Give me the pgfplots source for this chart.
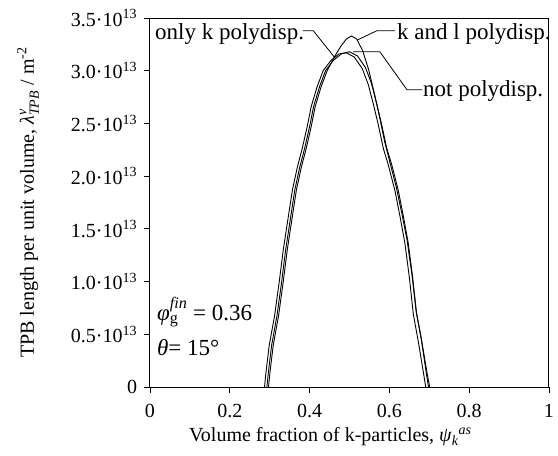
\documentclass[border=0pt]{standalone}
\usepackage{amsmath}
\usepackage{fontspec}
\setmainfont{Liberation Serif}
\usepackage{pgfplots}
\pgfplotsset{compat=1.18}

\begin{document}
\fontsize{20}{24}\selectfont
\begin{tikzpicture}
\begin{axis}[
  at={(0,0)}, anchor=south west,
  scale only axis,
  width=399pt, height=369pt,
  xmin=0, xmax=1, ymin=0, ymax=3.5,
  xtick={0,0.2,0.4,0.6,0.8,1},
  xticklabels={0,0.2,0.4,0.6,0.8,1},
  ytick={0,0.5,1,1.5,2,2.5,3,3.5},
  yticklabels={0,0.5·10\textsuperscript{13},1.0·10\textsuperscript{13},1.5·10\textsuperscript{13},2.0·10\textsuperscript{13},2.5·10\textsuperscript{13},3.0·10\textsuperscript{13},3.5·10\textsuperscript{13}},
  tick align=outside,
  xtick pos=bottom, ytick pos=left,
  major tick length=6pt,
  tick style={black, line width=0.8pt},
  axis line style={line width=1pt},
  ticklabel style={font=\fontsize{20}{24}\selectfont},
  xticklabel style={yshift=-4pt},
  label style={font=\fontsize{20}{24}\selectfont},
  xlabel={Volume fraction of k-particles, \textit{ψ}$_{\textit{k}}{}^{\textit{as}}$},
  ylabel={TPB length per unit volume, \textit{λ}$^{\textit{v}}_{\textit{TPB}}$ / m$^{\text{-2}}$},
  xlabel style={at={(axis description cs:0.452,0)}, anchor=center, yshift=-50pt},
  ylabel style={at={(axis description cs:-0.3058,0.5)}, anchor=center, rotate=0},
]
% not polydisp.
\addplot[black, line width=0.9pt] coordinates {
(0.293,0) (0.297,0.15) (0.305,0.40) (0.318,0.67) (0.330,1.00) (0.340,1.30)
(0.350,1.55) (0.363,1.87) (0.375,2.08) (0.388,2.27) (0.400,2.47) (0.410,2.66)
(0.425,2.85) (0.440,3.00) (0.460,3.10) (0.480,3.16) (0.500,3.18) (0.520,3.14)
(0.540,3.03) (0.555,2.88) (0.568,2.69) (0.580,2.50) (0.593,2.27) (0.605,2.12)
(0.622,1.87) (0.635,1.62) (0.647,1.37) (0.658,1.05) (0.668,0.70) (0.680,0.45)
(0.693,0.12) (0.698,0)
};
% only k polydisp.
\addplot[black, line width=0.9pt] coordinates {
(0.287,0) (0.291,0.15) (0.299,0.40) (0.312,0.67) (0.324,1.00) (0.334,1.30)
(0.344,1.55) (0.357,1.87) (0.369,2.08) (0.382,2.27) (0.394,2.47) (0.404,2.66)
(0.419,2.85) (0.434,3.00) (0.454,3.10) (0.474,3.16) (0.492,3.17) (0.512,3.13)
(0.532,3.02) (0.547,2.87) (0.560,2.68) (0.572,2.49) (0.585,2.26) (0.597,2.11)
(0.614,1.86) (0.627,1.61) (0.639,1.36) (0.650,1.04) (0.660,0.69) (0.672,0.44)
(0.686,0.12) (0.691,0)
};
% k and l polydisp.
\addplot[black, line width=0.9pt] coordinates {
(0.297,0) (0.301,0.15) (0.309,0.40) (0.322,0.67) (0.334,1.00) (0.344,1.30)
(0.354,1.55) (0.367,1.87) (0.379,2.08) (0.392,2.27) (0.404,2.47) (0.414,2.66)
(0.429,2.85) (0.444,3.00) (0.462,3.13) (0.478,3.23) (0.492,3.30) (0.505,3.33)
(0.518,3.30) (0.533,3.19) (0.548,3.01) (0.562,2.79) (0.576,2.55) (0.588,2.33)
(0.600,2.15) (0.617,1.90) (0.631,1.65) (0.644,1.40) (0.656,1.08) (0.667,0.72)
(0.680,0.46) (0.695,0.12) (0.701,0)
};
% labels
\node[anchor=west, inner sep=0pt, font=\fontsize{23}{27}\selectfont] at (axis cs:0.0125,3.35) {only k polydisp.};
\node[anchor=west, inner sep=0pt, font=\fontsize{23}{27}\selectfont] at (axis cs:0.619,3.35) {k and l polydisp.};
\node[anchor=west, inner sep=0pt, font=\fontsize{23}{27}\selectfont] at (axis cs:0.684,2.81) {not polydisp.};
\draw[line width=0.8pt] (axis cs:0.383,3.38) -- (axis cs:0.409,3.38) -- (axis cs:0.464,3.12);
\draw[line width=0.8pt] (axis cs:0.519,3.29) -- (axis cs:0.569,3.38) -- (axis cs:0.614,3.38);
\draw[line width=0.8pt] (axis cs:0.509,3.18) -- (axis cs:0.576,3.18) -- (axis cs:0.644,2.82) -- (axis cs:0.682,2.82);
\node[anchor=west, inner sep=0pt, font=\fontsize{23}{27}\selectfont] at (axis cs:0.0175,0.71) {\textit{φ}$_{\text{g}}^{\textit{fin}}$ = 0.36};
\node[anchor=west, inner sep=0pt, font=\fontsize{23}{27}\selectfont] at (axis cs:0.0175,0.37) {\textit{θ}= 15°};
\end{axis}
\pgfresetboundingbox
\useasboundingbox (-150pt,-69pt) rectangle (408pt,387pt);
\end{tikzpicture}
\end{document}
